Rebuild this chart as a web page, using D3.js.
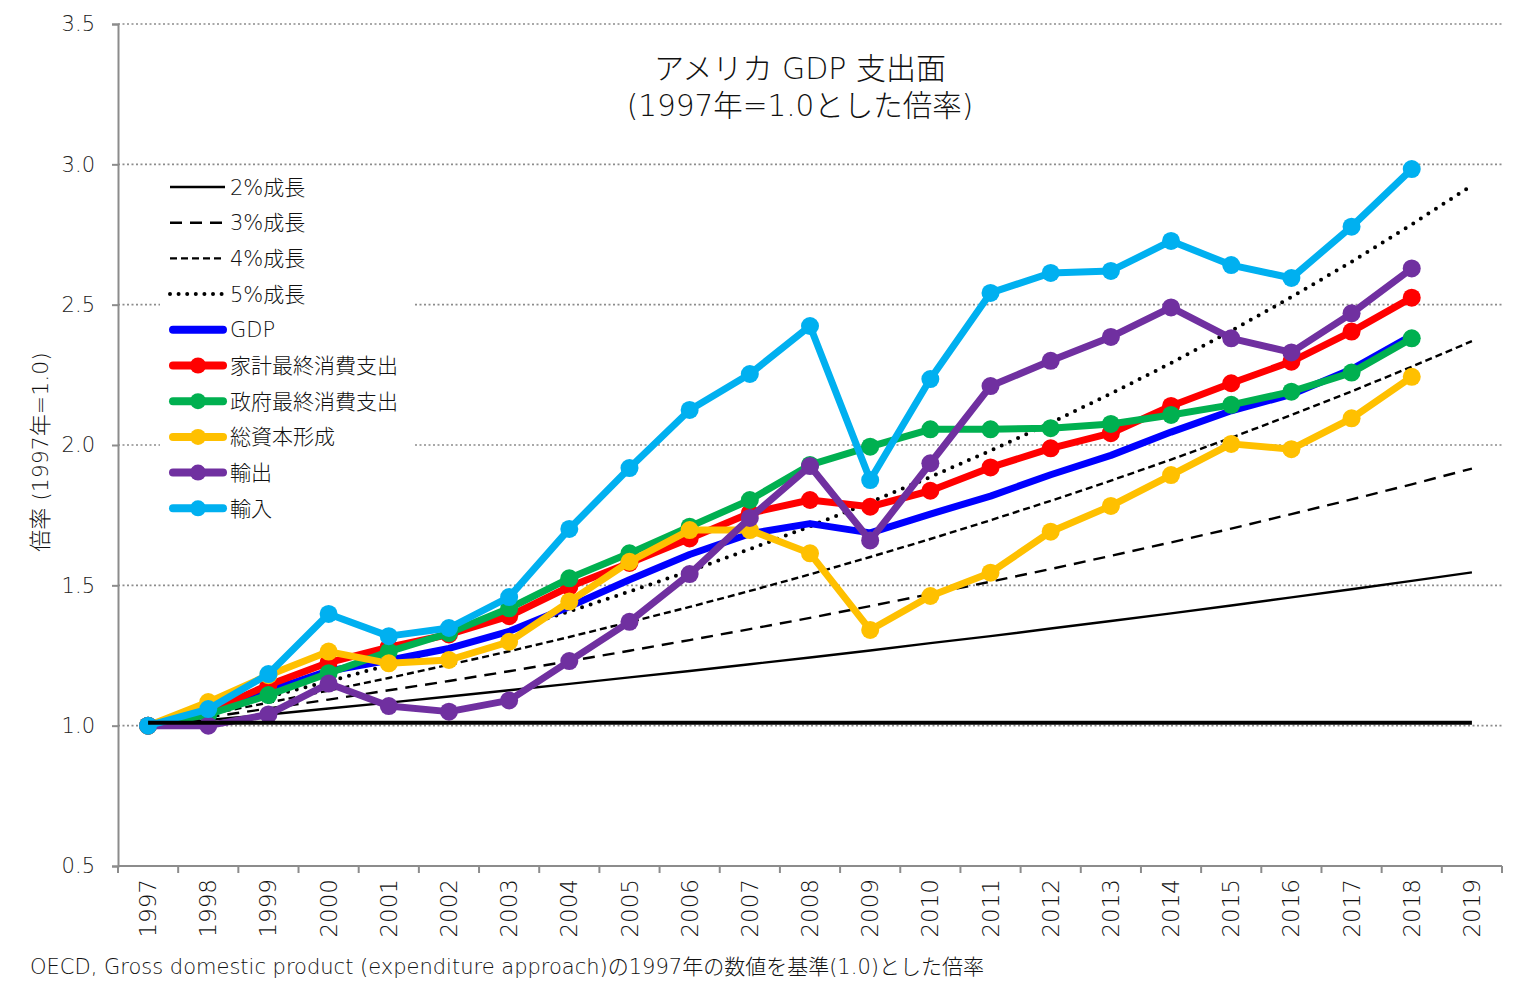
<!DOCTYPE html>
<html>
<head>
<meta charset="utf-8">
<script src="https://cdn.jsdelivr.net/npm/d3@7"></script>
<style>
  body { margin: 0; background: #fff; }
  text { font-family: "DejaVu Sans", "Noto Sans CJK JP", sans-serif; }
</style>
</head>
<body>
<script>
// DATA =============================================
var years = ['1997','1998','1999','2000','2001','2002','2003','2004','2005','2006','2007',
  '2008','2009','2010','2011','2012','2013','2014','2015','2016','2017','2018','2019'];

var yTicks = [0.5, 1.0, 1.5, 2.0, 2.5, 3.0, 3.5];

// reference growth lines (1997 = 1.0)
var growth2 = [1, 1.02, 1.040, 1.061, 1.082, 1.104, 1.126, 1.149, 1.172, 1.195, 1.219, 1.243,
  1.268, 1.294, 1.319, 1.346, 1.373, 1.400, 1.428, 1.457, 1.486, 1.516, 1.546];
var growth3 = [1, 1.03, 1.061, 1.093, 1.126, 1.159, 1.194, 1.230, 1.267, 1.305, 1.344, 1.384,
  1.426, 1.469, 1.513, 1.558, 1.605, 1.653, 1.702, 1.754, 1.806, 1.860, 1.916];
var growth4 = [1, 1.04, 1.082, 1.125, 1.170, 1.217, 1.265, 1.316, 1.369, 1.423, 1.480, 1.539,
  1.601, 1.665, 1.732, 1.801, 1.873, 1.948, 2.026, 2.107, 2.191, 2.279, 2.370];
var growth5 = [1, 1.05, 1.103, 1.158, 1.216, 1.276, 1.340, 1.407, 1.478, 1.551, 1.629, 1.710,
  1.796, 1.886, 1.980, 2.079, 2.183, 2.292, 2.407, 2.527, 2.653, 2.786, 2.925];
var baseLine = [1.01, 1.01, 1.01, 1.01, 1.01, 1.01, 1.01, 1.01, 1.01, 1.01, 1.01, 1.01,
  1.01, 1.01, 1.01, 1.01, 1.01, 1.01, 1.01, 1.01, 1.01, 1.01, 1.01];

// expenditure components, 1997 - 2018
var gdp = [1, 1.056, 1.123, 1.195, 1.233, 1.275, 1.336, 1.424, 1.52, 1.61, 1.684,
  1.72, 1.687, 1.754, 1.818, 1.894, 1.963, 2.046, 2.122, 2.18, 2.27, 2.39];
var household = [1, 1.05, 1.145, 1.225, 1.28, 1.325, 1.39, 1.495, 1.58, 1.667, 1.757,
  1.804, 1.78, 1.837, 1.92, 1.988, 2.042, 2.139, 2.22, 2.297, 2.404, 2.525];
var government = [1, 1.04, 1.109, 1.187, 1.264, 1.33, 1.418, 1.525, 1.614, 1.709, 1.804,
  1.929, 1.994, 2.056, 2.056, 2.06, 2.075, 2.107, 2.143, 2.19, 2.258, 2.38];
var capital = [1, 1.084, 1.18, 1.264, 1.222, 1.234, 1.299, 1.442, 1.584, 1.697, 1.697,
  1.614, 1.341, 1.462, 1.545, 1.691, 1.783, 1.893, 2.004, 1.985, 2.095, 2.243];
var exports = [1, 1.0, 1.04, 1.15, 1.07, 1.05, 1.09, 1.23, 1.37, 1.54, 1.74,
  1.925, 1.66, 1.935, 2.21, 2.30, 2.385, 2.49, 2.38, 2.33, 2.469, 2.629];
var imports = [1, 1.059, 1.184, 1.398, 1.319, 1.348, 1.458, 1.701, 1.918, 2.125, 2.253,
  2.424, 1.875, 2.235, 2.542, 2.613, 2.62, 2.727, 2.641, 2.595, 2.778, 2.983];

var growthLines = [
  { name: '2%成長', values: growth2, dash: null, cap: 'butt' },
  { name: '3%成長', values: growth3, dash: '12,8', cap: 'butt' },
  { name: '4%成長', values: growth4, dash: '7,4', cap: 'butt' },
  { name: '5%成長', values: growth5, dash: '0,9', cap: 'round' }
];

var series = [
  { name: 'GDP', values: gdp, color: '#0000ff', marker: false },
  { name: '家計最終消費支出', values: household, color: '#ff0000', marker: true },
  { name: '政府最終消費支出', values: government, color: '#00b050', marker: true },
  { name: '総資本形成', values: capital, color: '#ffc000', marker: true },
  { name: '輸出', values: exports, color: '#7030a0', marker: true },
  { name: '輸入', values: imports, color: '#00b0f0', marker: true }
];

// ==============================================================================

var width = 1524,
    height = 996;

var margin = { left: 118, right: 22, top: 24, bottom: 130 };

var svg = d3.select("body").append("svg")
    .attr("width", width)
    .attr("height", height);

var x = d3.scaleBand()
    .domain(years)
    .range([margin.left, width - margin.right]);

var y = d3.scaleLinear()
    .domain([0.5, 3.5])
    .range([height - margin.bottom, margin.top]);

var cx = d => x(d) + x.bandwidth() / 2;

// gridlines
svg.append('g')
  .selectAll('line')
    .data(yTicks.slice(1))
  .enter().append('line')
    .attr('x1', margin.left)
    .attr('x2', width - margin.right)
    .attr('y1', d => y(d))
    .attr('y2', d => y(d))
    .attr('stroke', '#8c8c8c')
    .attr('stroke-width', 1.6)
    .attr('stroke-dasharray', '2,2.5');

// y axis
var yAxis = d3.axisLeft(y)
    .tickValues(yTicks)
    .tickFormat(d3.format('.1f'))
    .tickSize(6)
    .tickPadding(17);

var gy = svg.append('g')
    .attr('transform', 'translate(' + margin.left + ',0)')
    .call(yAxis);
gy.select('.domain').attr('stroke', '#8c8c8c').attr('stroke-width', 2);
gy.selectAll('.tick line').attr('stroke', '#8c8c8c').attr('stroke-width', 2);
gy.selectAll('.tick text')
    .attr('font-size', '21px')
    .attr('fill', '#222')
    .style('font-family', '"DejaVu Sans", sans-serif')
    .style('font-weight', 200);

// x axis: ticks on band boundaries, labels at band centres
var gx = svg.append('g')
    .attr('transform', 'translate(0,' + y(0.5) + ')');

gx.append('line')
    .attr('x1', margin.left)
    .attr('x2', width - margin.right)
    .attr('stroke', '#8c8c8c')
    .attr('stroke-width', 2);

gx.selectAll('line.tk')
    .data(years.concat(['end']))
  .enter().append('line')
    .attr('class', 'tk')
    .attr('x1', d => d === 'end' ? x.range()[1] : x(d))
    .attr('x2', d => d === 'end' ? x.range()[1] : x(d))
    .attr('y1', 0)
    .attr('y2', 7)
    .attr('stroke', '#8c8c8c')
    .attr('stroke-width', 2);

gx.selectAll('text')
    .data(years)
  .enter().append('text')
    .attr('transform', d => 'translate(' + cx(d) + ',13) rotate(-90)')
    .attr('text-anchor', 'end')
    .attr('dy', '0.35em')
    .attr('font-size', '23px')
    .attr('fill', '#111')
    .style('font-weight', 200)
    .text(d => d);

// lines
var line = d3.line()
    .x((d, i) => cx(years[i]))
    .y(d => y(d));

svg.append('g')
  .selectAll('path')
    .data(growthLines)
  .enter().append('path')
    .attr('d', d => line(d.values))
    .attr('fill', 'none')
    .attr('stroke', '#000')
    .attr('stroke-width', (d, i) => i === 3 ? 4 : 2.4)
    .attr('stroke-linecap', d => d.cap)
    .attr('stroke-dasharray', d => d.dash);

var sg = svg.append('g')
  .selectAll('g')
    .data(series)
  .enter().append('g');

sg.append('path')
    .attr('d', d => line(d.values))
    .attr('fill', 'none')
    .attr('stroke', d => d.color)
    .attr('stroke-width', 7)
    .attr('stroke-linejoin', 'round');

sg.selectAll('circle')
    .data(d => d.marker ? d.values.map((v, i) => ({ v, i, color: d.color })) : [])
  .enter().append('circle')
    .attr('cx', d => cx(years[d.i]))
    .attr('cy', d => y(d.v))
    .attr('r', 9)
    .attr('fill', d => d.color);

svg.append('path')
    .attr('d', line(baseLine))
    .attr('fill', 'none')
    .attr('stroke', '#000')
    .attr('stroke-width', 4);

// legend
var legend = svg.append('g').attr('transform', 'translate(160,170)');

legend.append('rect')
    .attr('width', 255)
    .attr('height', 356)
    .attr('fill', '#fff');

var legendItems = growthLines.map(d => ({ name: d.name, type: 'growth', g: d }))
  .concat(series.map(d => ({ name: d.name, type: 'series', s: d })));

var li = legend.selectAll('g.item')
    .data(legendItems)
  .enter().append('g')
    .attr('class', 'item')
    .attr('transform', (d, i) => 'translate(0,' + (17 + i * 35.7) + ')');

li.append('line')
    .attr('x1', d => d.type === 'series' ? 13 : 10)
    .attr('x2', d => d.type === 'series' ? 63 : 65)
    .attr('stroke', d => d.type === 'series' ? d.s.color : '#000')
    .attr('stroke-width', (d, i) => d.type === 'series' ? 8 : (i === 3 ? 4 : 2.4))
    .attr('stroke-linecap', d => d.type === 'series' ? 'round' : d.g.cap)
    .attr('stroke-dasharray', d => d.type === 'series' ? null : (d.g.dash === '0,9' ? '0,8.6' : d.g.dash));

li.filter(d => d.type === 'series' && d.s.marker)
  .append('circle')
    .attr('cx', 38)
    .attr('r', 8)
    .attr('fill', d => d.s.color);

li.append('text')
    .attr('x', 70)
    .attr('dy', '0.36em')
    .attr('font-size', '21px')
    .attr('fill', '#111')
    .style('font-weight', 200)
    .text(d => d.name);

// title
svg.append('text')
    .attr('x', 800)
    .attr('y', 79)
    .attr('text-anchor', 'middle')
    .attr('font-size', '30px')
    .attr('fill', '#111')
    .style('font-weight', 200)
    .text('アメリカ GDP 支出面');

svg.append('text')
    .attr('x', 800)
    .attr('y', 116)
    .attr('text-anchor', 'middle')
    .attr('font-size', '29.5px')
    .attr('fill', '#111')
    .style('font-weight', 200)
    .text('(1997年=1.0とした倍率)');

// y axis title
svg.append('text')
    .attr('transform', 'translate(40,' + 452 + ') rotate(-90)')
    .attr('text-anchor', 'middle')
    .attr('dy', '0.35em')
    .attr('font-size', '22px')
    .attr('fill', '#111')
    .style('font-weight', 200)
    .text('倍率 (1997年=1.0)');

// source note
svg.append('text')
    .attr('x', 30)
    .attr('y', 974)
    .attr('font-size', '21px')
    .attr('fill', '#111')
    .style('font-weight', 200)
    .text('OECD, Gross domestic product (expenditure approach)の1997年の数値を基準(1.0)とした倍率');
</script>
</body>
</html>
